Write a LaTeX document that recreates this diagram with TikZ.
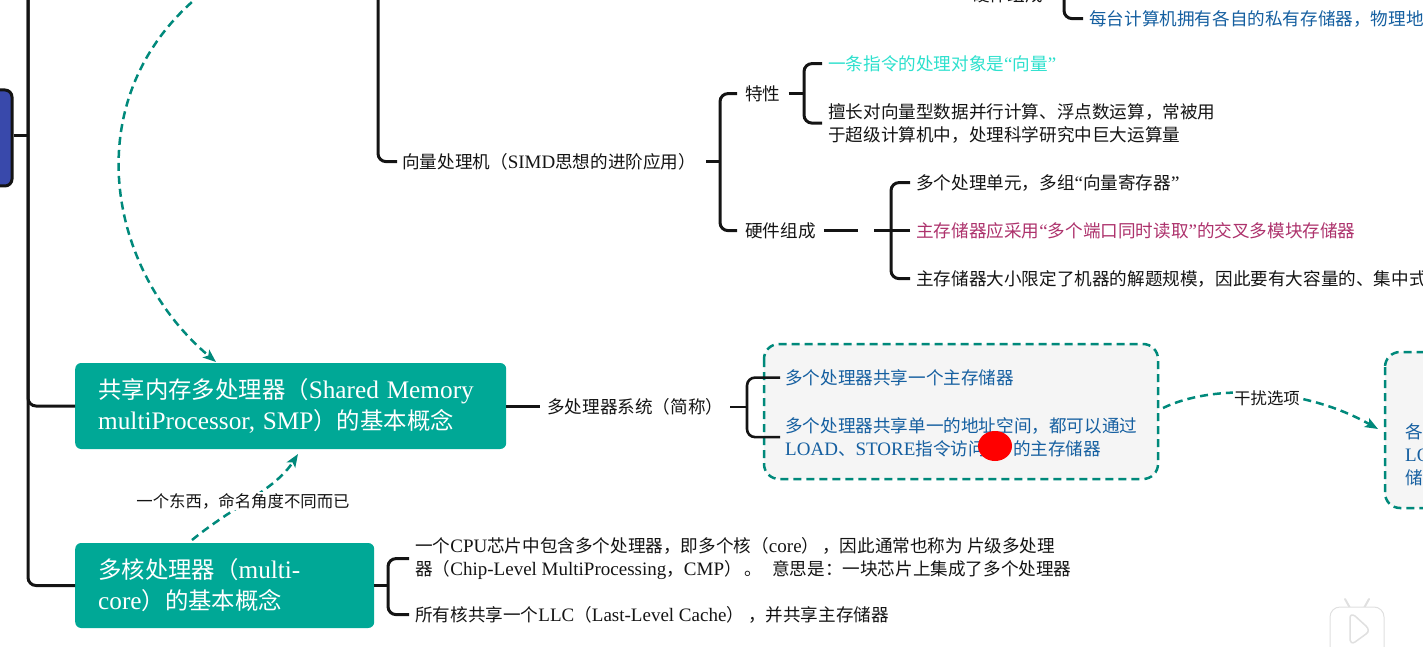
\documentclass[tikz,border=0pt]{standalone}
\usepackage{fontspec}
\usetikzlibrary{arrows.meta}
\setmainfont{Noto Sans CJK SC}
\newfontfamily\latfont[Scale=1.08]{Liberation Serif}
\newcommand\lat[1]{{\latfont #1}}
\definecolor{teal1}{RGB}{0,168,150}
\definecolor{teal2}{RGB}{0,137,123}
\definecolor{blue1}{RGB}{21,95,160}
\definecolor{cyan1}{RGB}{45,224,205}
\definecolor{rose1}{RGB}{173,50,108}
\definecolor{ink}{RGB}{20,20,20}
\definecolor{rootblue}{RGB}{57,73,171}
\tikzset{
  conn/.style={line width=3pt,draw=ink,rounded corners=8pt},
  txt/.style={anchor=west,inner sep=0pt,align=left,text=ink,yshift=-0.6pt,font=\fontsize{17.6}{23}\selectfont},
  bluetxt/.style={txt,text=blue1},
  head/.style={anchor=west,fill=teal1,rounded corners=6pt,text=white,align=left,inner sep=0pt,font=\fontsize{23.4}{31}\selectfont},
  dashbox/.style={draw=teal2,fill=black!4,line width=2.5pt,dash pattern=on 8pt off 5pt,rounded corners=15pt},
  dasharrow/.style={draw=teal2,line width=2.5pt,dash pattern=on 8pt off 5pt,-{Stealth[length=13pt,width=10pt,inset=3pt]}},
  note/.style={inner sep=1pt,text=ink,font=\fontsize{16.4}{20}\selectfont},
  wmark/.style={draw=black!12,line width=1.5pt,fill=white,line join=round},
}
\begin{document}
\begin{tikzpicture}[x=1pt,y=-1pt]
\useasboundingbox (0,0) rectangle (1423,647);
\clip (0,0) rectangle (1423,647);
% dashed boxes
\draw[dashbox] (764,344) rectangle (1158,479);
\draw[dashbox] (1385,352) rectangle (1500,508);
% heads
\node[head,minimum width=431pt,minimum height=86pt,text width=431pt] (smp) at (75,406) {\hspace*{23pt}共享内存多处理器（\lat{Shared Memory}\\\hspace*{23pt}\lat{multiProcessor, SMP}）的基本概念};
\node[head,minimum width=299pt,minimum height=85pt,text width=299pt] (mc) at (75,585.5) {\hspace*{23pt}多核处理器（\lat{multi-}\\\hspace*{23pt}\lat{core}）的基本概念};
\node[draw=ink,fill=rootblue,line width=3pt,rounded corners=7pt,minimum width=40pt,minimum height=96pt,inner sep=0pt] (root) at (-8,138) {};
% text nodes
\node[txt] (hwtop) at (972,-6) {硬件组成};
\node[bluetxt] (priv) at (1089,18) {每台计算机拥有各自的私有存储器，物理地};
\node[txt] (vec) at (402,161) {向量处理机（\lat{SIMD}思想的进阶应用）};
\node[txt] (prop) at (745,93) {特性};
\node[txt] (hw) at (745,230) {硬件组成};
\node[txt,text=cyan1] (p1) at (828,63) {一条指令的处理对象是\lat{“}向量\lat{”}};
\node[txt] (p2) at (828,122.5) {擅长对向量型数据并行计算、浮点数运算，常被用\\于超级计算机中，处理科学研究中巨大运算量};
\node[txt] (h1) at (916,182) {多个处理单元，多组\lat{“}向量寄存器\lat{”}};
\node[txt,text=rose1] (h2) at (916,230) {主存储器应采用\lat{“}多个端口同时读取\lat{”}的交叉多模块存储器};
\node[txt] (h3) at (916,278) {主存储器大小限定了机器的解题规模，因此要有大容量的、集中式};
\node[txt] (sys) at (547,406) {多处理器系统（简称）};
\node[bluetxt] (s1) at (785,377) {多个处理器共享一个主存储器};
\node[bluetxt] (s2) at (785,436.5) {多个处理器共享单一的地址空间，都可以通过\\\lat{LOAD}、\lat{STORE}指令访问\hspace{1.55em}的主存储器};
\node[bluetxt] (r1) at (1405,454) {各\\\lat{LO}\\储};
\node[txt] (m1) at (415,558) {一个\lat{CPU}芯片中包含多个处理器，即多个核（\lat{core}）\hspace{3pt}，因此通常也称为 片级多处理\\器（\lat{Chip-Level MultiProcessing}，\lat{CMP}）\hspace{3pt}。\hspace{10pt}意思是：一块芯片上集成了多个处理器};
\node[txt] (m2) at (415,614) {所有核共享一个\lat{LLC}（\lat{Last-Level Cache}）\hspace{4pt}，并共享主存储器};
% junction coordinates
\coordinate (tr) at (28,136);
\coordinate (v2) at (378,161);
\coordinate (j1) at (720,161.6);
\coordinate (j2) at (804,93.6);
\coordinate (j3) at (891,230.6);
\coordinate (j3b) at (874,230.6);
\coordinate (j4) at (747,406.6);
\coordinate (j5) at (388,585.5);
\coordinate (j6) at (1064,18);
% connectors
\draw[conn] (root.east |- tr) -- (tr);
\draw[conn] (28,-10) |- (smp.west);
\draw[conn] (28,-10) |- (mc.west);
\draw[conn] (v2 |- 0,-10) |- ([xshift=-5pt]vec.west);
\draw[conn] (j6 |- 0,-10) |- ([xshift=-6pt]priv.west);
\draw[conn] ([xshift=10pt]vec.east) -- (j1);
\draw[conn] ([xshift=-8pt]prop.west) -| (j1) |- ([xshift=-8pt]hw.west);
\draw[conn] ([xshift=8pt]prop.east) -- (j2);
\draw[conn] ([xshift=-6pt]p1.west) -| (j2) |- ([xshift=-6pt]p2.west);
\draw[conn] ([xshift=8pt]hw.east) -- ++(34,0);
\draw[conn] (j3b) -- (j3);
\draw[conn] ([xshift=-6pt]h2.west) -- (j3);
\draw[conn] ([xshift=-6pt]h1.west) -| (j3) |- ([xshift=-6pt]h3.west);
\draw[conn] (smp.east) -- ++(34,0);
\draw[conn,line width=2.2pt] ([xshift=7pt]sys.east) -- (j4);
\draw[conn,line width=2.6pt] ([xshift=-5pt]s1.west) -| (j4) |- ([xshift=-5pt]s2.west);
\draw[conn,line width=2.6pt] (mc.east) -- (j5);
\draw[conn] ([xshift=-6pt]m1.west) -| (j5) |- ([xshift=-6pt]m2.west);
% dashed links
\coordinate (a1s) at (245,-35);
\coordinate (a1e) at (216,362);
\draw[dasharrow] (a1s) .. controls (70,60) and (95,260) .. (a1e);
\coordinate (a2s) at (192,540);
\coordinate (a2e) at (298,454);
\draw[dasharrow] (a2s) .. controls (235,505) and (275,490) .. (a2e);
\node[note,fill=white] (l2) at (243,501) {一个东西，命名角度不同而已};
\coordinate (a3s) at (1163,408);
\coordinate (a3e) at (1378,429);
\draw[dasharrow] (a3s) .. controls (1210,385) and (1300,385) .. (a3e);
\node[note,fill=white] (l3) at (1267,398) {干扰选项};
% red pointer
\fill[red] (995,446) ellipse (17pt and 15pt);
% player watermark
\draw[black!12,line width=2pt,line cap=round] (1345,599) -- (1350,608);
\draw[black!12,line width=2pt,line cap=round] (1369,599) -- (1364,608);
\draw[wmark,line width=1pt,rounded corners=10pt] (1330,607) rectangle (1384,665);
\draw[wmark] (1350,632) -- (1350,618) .. controls (1350,615) and (1352,614) .. (1355,616) -- (1366,626) .. controls (1369,629) and (1369,632) .. (1366,634) -- (1355,642) .. controls (1352,644) and (1350,642) .. (1350,640) -- cycle;
\end{tikzpicture}
\end{document}
